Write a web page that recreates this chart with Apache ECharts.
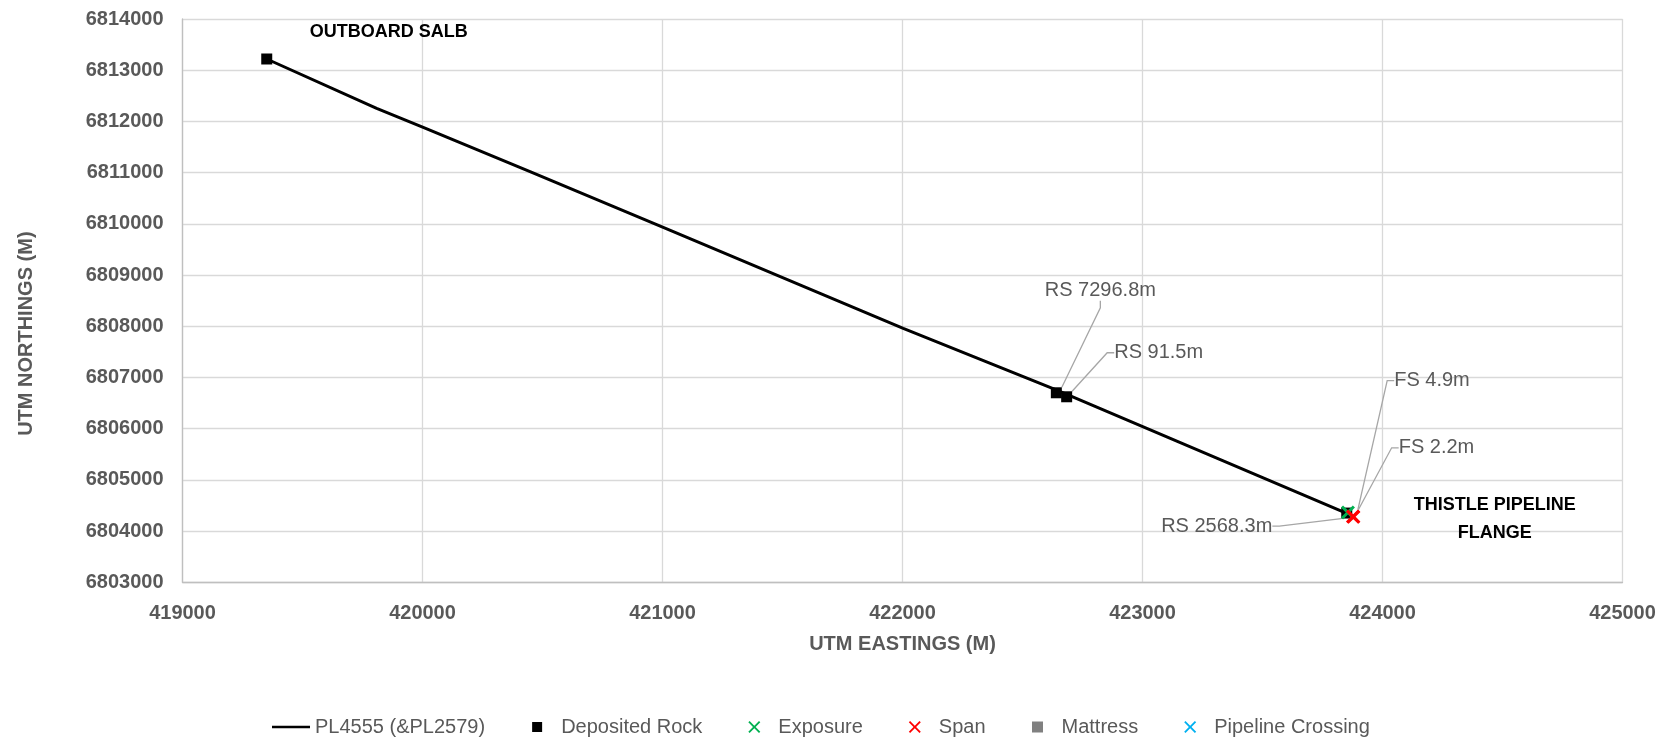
<!DOCTYPE html>
<html><head><meta charset="utf-8">
<script src="https://cdn.jsdelivr.net/npm/echarts@6/dist/echarts.min.js"></script>
<style>html,body{margin:0;padding:0;background:#fff}#c{width:1673px;height:742px}</style>
</head><body><div id="c"></div>
<script>
// ---- data ----
const xTickValues = [419000, 420000, 421000, 422000, 423000, 424000, 425000];
const yTickValues = [6803000, 6804000, 6805000, 6806000, 6807000, 6808000, 6809000, 6810000, 6811000, 6812000, 6813000, 6814000];

const pipelineE = [419351, 419809, 420003, 420448, 421003, 422003, 422643, 423851];
const pipelineN = [6813219, 6812256, 6811885, 6811018, 6809932, 6807959, 6806754, 6804346];

const rockE = [419351, 422641, 422684, 423851];
const rockN = [6813219, 6806701, 6806623, 6804352];
const rockLabels = ['', 'RS 7296.8m', 'RS 91.5m', 'RS 2568.3m'];

const exposureE = [423856];
const exposureN = [6804365];

const spanE = [423877, 423879];
const spanN = [6804283, 6804279];
const spanLabels = ['FS 4.9m', 'FS 2.2m'];

const mattressE = [];
const mattressN = [];
const crossingE = [];
const crossingN = [];

const endLabels = ['OUTBOARD SALB', 'THISTLE PIPELINE\nFLANGE'];
const legendNames = ['PL4555 (&PL2579)', 'Deposited Rock', 'Exposure', 'Span', 'Mattress', 'Pipeline Crossing'];

// ---- presentation ----
const FONT = 'Liberation Sans';
const GREY = '#595959';
function xShape(ox, oy, s, a) {
  const base = [[a,0],[5,5-a],[10-a,0],[10,a],[5+a,5],[10,10-a],[10-a,10],[5,5+a],[a,10],[0,10-a],[5-a,5],[0,a]];
  return base.map((p, i) => (i ? 'L' : 'M') + (ox + p[0] * s / 10).toFixed(2) + ',' + (oy + p[1] * s / 10).toFixed(2)).join(' ') + ' Z';
}
const X_PATH = 'path://' + xShape(0, 0, 10, 1.5);
const LW = 38, LH = 13;
const box = 'M0,0 L0,0 M' + LW + ',' + LH + ' L' + LW + ',' + LH + ' ';
const ICON_LINE = 'path://' + box + 'M0,5.25 H38 V7.75 H0 Z';
const ICON_SQ = 'path://' + box + 'M14,1.5 H24 V11.5 H14 Z';
const ICON_SQ2 = 'path://' + box + 'M13.5,1 H24.5 V12 H13.5 Z';
const ICON_X = 'path://' + box + xShape(13, 0.5, 12, 1.1);

const labelOffsets = {
  'OUTBOARD SALB': [122, -27],
  'THISTLE PIPELINE\nFLANGE': [148, 6],
  'RS 7296.8m': [44, -102],
  'RS 91.5m': [92, -44],
  'RS 2568.3m': [-130, 13],
  'FS 4.9m': [79, -136],
  'FS 2.2m': [83, -69]
};
function placeLabel(p) {
  const o = labelOffsets[p.text];
  if (!o) return {};
  return {
    x: p.rect.x + p.rect.width / 2 + o[0],
    y: p.rect.y + p.rect.height / 2 + o[1],
    align: 'center', verticalAlign: 'middle'
  };
}
function pairs(e, n) { return e.map((v, i) => [v, n[i]]); }
function labelled(e, n, texts) {
  return e.map((v, i) => {
    const t = texts[i] || '';
    return { value: [v, n[i]], text: t, label: { show: !!t }, labelLine: { show: !!t } };
  });
}
const annLabel = {
  show: true, position: 'inside', fontFamily: FONT, fontSize: 20, color: GREY, opacity: 1,
  padding: [0, 4], formatter: p => p.data.text
};
const annLine = { show: true, length2: 7, lineStyle: { color: '#a6a6a6', width: 1.3, opacity: 1 } };

const chart = echarts.init(document.getElementById('c'), null, { renderer: 'canvas' });
const axisCommon = {
  type: 'value',
  axisLine: { show: true, lineStyle: { color: '#bfbfbf', width: 1.3 } },
  axisTick: { show: false },
  splitLine: { show: true, lineStyle: { color: '#d9d9d9', width: 1.3 } },
};
const legendIcons = [ICON_LINE, ICON_SQ, ICON_X, ICON_X, ICON_SQ2, ICON_X];
const legendColors = ['#000', '#000', '#00b050', '#ff0000', '#808080', '#00b0f0'];
chart.setOption({
  animation: false,
  backgroundColor: '#fff',
  grid: { left: 182.5, right: 50.5, top: 19, bottom: 159.7, containLabel: false, outerBoundsMode: 'none' },
  xAxis: Object.assign({}, axisCommon, {
    min: xTickValues[0], max: xTickValues[xTickValues.length - 1], interval: 1000,
    name: 'UTM EASTINGS (M)', nameLocation: 'middle', nameGap: 52,
    nameTextStyle: { fontFamily: FONT, fontSize: 20, fontWeight: 'bold', color: GREY },
    axisLabel: { fontFamily: FONT, fontSize: 20, fontWeight: 'bold', color: GREY, margin: 21,
      showMinLabel: true, showMaxLabel: true, formatter: v => String(v) }
  }),
  yAxis: Object.assign({}, axisCommon, {
    min: yTickValues[0], max: yTickValues[yTickValues.length - 1], interval: 1000,
    name: 'UTM NORTHINGS (M)', nameLocation: 'middle', nameGap: 146, nameRotate: 90,
    nameTextStyle: { fontFamily: FONT, fontSize: 20, fontWeight: 'bold', color: GREY, padding: [0, 66, 0, 0] },
    axisLabel: { fontFamily: FONT, fontSize: 20, fontWeight: 'bold', color: GREY, margin: 19,
      showMinLabel: true, showMaxLabel: true, formatter: v => String(v) }
  }),
  legend: {
    left: 272, top: 717, padding: 0, itemWidth: LW, itemHeight: LH, itemGap: 33,
    textStyle: { fontFamily: FONT, fontSize: 20, color: GREY },
    data: legendNames.map((n, i) => ({
      name: n, icon: legendIcons[i],
      itemStyle: { color: legendColors[i], borderWidth: 0, opacity: 1 }
    }))
  },
  series: [
    { name: legendNames[0], type: 'line', data: pairs(pipelineE, pipelineN), symbol: 'none',
      lineStyle: { color: '#000', width: 3 }, itemStyle: { color: '#000' }, z: 2 },
    { name: legendNames[1], type: 'scatter', data: labelled(rockE, rockN, rockLabels),
      symbol: 'rect', symbolSize: 11, itemStyle: { color: '#000', opacity: 1 },
      label: annLabel, labelLine: annLine, labelLayout: placeLabel, z: 3 },
    { name: legendNames[2], type: 'scatter', data: pairs(exposureE, exposureN),
      symbol: X_PATH, symbolSize: 14, itemStyle: { color: '#00b050', opacity: 1 }, z: 4 },
    { name: legendNames[3], type: 'scatter', data: labelled(spanE, spanN, spanLabels),
      symbol: X_PATH, symbolSize: 14, itemStyle: { color: '#ff0000', opacity: 1 },
      label: annLabel, labelLine: annLine, labelLayout: placeLabel, z: 5 },
    { name: legendNames[4], type: 'scatter', data: pairs(mattressE, mattressN),
      symbol: 'rect', symbolSize: 11, itemStyle: { color: '#808080', opacity: 1 } },
    { name: legendNames[5], type: 'scatter', data: pairs(crossingE, crossingN),
      symbol: X_PATH, symbolSize: 14, itemStyle: { color: '#00b0f0', opacity: 1 } },
    { name: 'annotations', type: 'scatter', symbolSize: 1, itemStyle: { color: 'rgba(0,0,0,0)', opacity: 1 },
      data: [
        { value: [pipelineE[0], pipelineN[0]], text: endLabels[0] },
        { value: [pipelineE[pipelineE.length - 1], pipelineN[pipelineN.length - 1]], text: endLabels[1] }
      ],
      label: { show: true, position: 'inside', fontFamily: FONT, fontSize: 18, fontWeight: 'bold',
        color: '#000', opacity: 1, lineHeight: 28, align: 'center', formatter: p => p.data.text },
      labelLayout: placeLabel, z: 6 }
  ]
});
</script></body></html>
